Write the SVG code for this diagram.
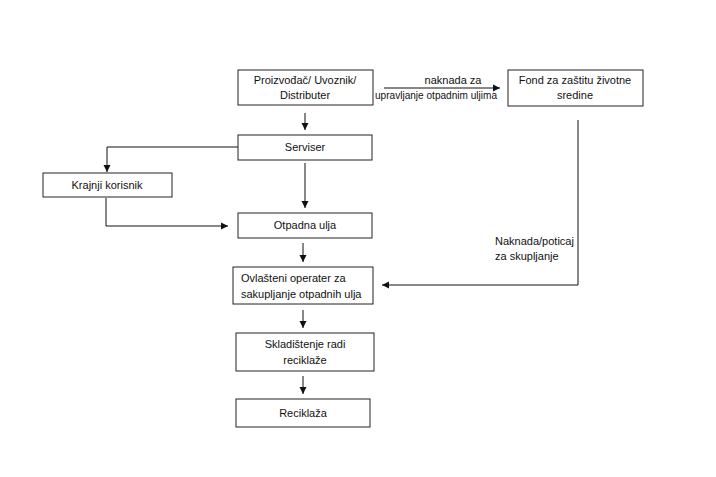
<svg xmlns="http://www.w3.org/2000/svg" width="716" height="477" viewBox="0 0 716 477">
<style>
.box{fill:#fff;stroke:#222;stroke-width:1}
.t{font-family:"Liberation Sans",Arial,sans-serif;font-size:11px;fill:#111;text-anchor:middle}
.l{font-family:"Liberation Sans",Arial,sans-serif;font-size:11px;fill:#111}
.c{fill:none;stroke:#111;stroke-width:1}
</style>
<defs>
<marker id="ah" markerWidth="8" markerHeight="8" refX="7" refY="4" orient="auto" markerUnits="userSpaceOnUse">
<path d="M0,0.5 L7,4 L0,7.5 Z" fill="#111"/>
</marker>
</defs>
<rect width="716" height="477" fill="#fff"/>
<g id="connectors">
<path class="c" d="M384,88 H500" marker-end="url(#ah)"/>
<path class="c" d="M305,113 V130" marker-end="url(#ah)"/>
<path class="c" d="M238,147 H107 V172" marker-end="url(#ah)"/>
<path class="c" d="M305,163 V208" marker-end="url(#ah)"/>
<path class="c" d="M106,198 V226 H228" marker-end="url(#ah)"/>
<path class="c" d="M303,243 V262" marker-end="url(#ah)"/>
<path class="c" d="M578,120 V285 H382" marker-end="url(#ah)"/>
<path class="c" d="M303,310 V328" marker-end="url(#ah)"/>
<path class="c" d="M303,376 V394" marker-end="url(#ah)"/>
<text class="t" x="453" y="84">naknada za</text>
<text class="l" x="375" y="99" textLength="122" lengthAdjust="spacingAndGlyphs">upravljanje otpadnim uljima</text>
<text class="l" x="495" y="245">Naknada/poticaj</text>
<text class="l" x="495" y="260">za skupljanje</text>
</g>
<g id="proizvodac">
<rect class="box" x="238" y="70" width="135" height="35"/>
<text class="t" x="305" y="84">Proizvođač/ Uvoznik/</text>
<text class="t" x="305" y="99">Distributer</text>
</g>
<g id="fond">
<rect class="box" x="508" y="70" width="135" height="36"/>
<text class="t" x="575" y="84">Fond za zaštitu životne</text>
<text class="t" x="575" y="99">sredine</text>
</g>
<g id="serviser">
<rect class="box" x="238" y="135" width="134" height="25"/>
<text class="t" x="305" y="151">Serviser</text>
</g>
<g id="krajnji">
<rect class="box" x="43" y="173" width="129" height="24"/>
<text class="t" x="107" y="189">Krajnji korisnik</text>
</g>
<g id="otpadna">
<rect class="box" x="238" y="213" width="134" height="25"/>
<text class="t" x="305" y="229">Otpadna ulja</text>
</g>
<g id="ovlasteni">
<rect class="box" x="233" y="267" width="140" height="37"/>
<text class="l" x="241" y="282">Ovlašteni operater za</text>
<text class="l" x="241" y="298">sakupljanje otpadnih ulja</text>
</g>
<g id="skladistenje">
<rect class="box" x="236" y="333" width="138" height="38"/>
<text class="t" x="305" y="348">Skladištenje radi</text>
<text class="t" x="305" y="364">reciklaže</text>
</g>
<g id="reciklaza">
<rect class="box" x="236" y="399" width="134" height="28"/>
<text class="t" x="303" y="417">Reciklaža</text>
</g>
</svg>
